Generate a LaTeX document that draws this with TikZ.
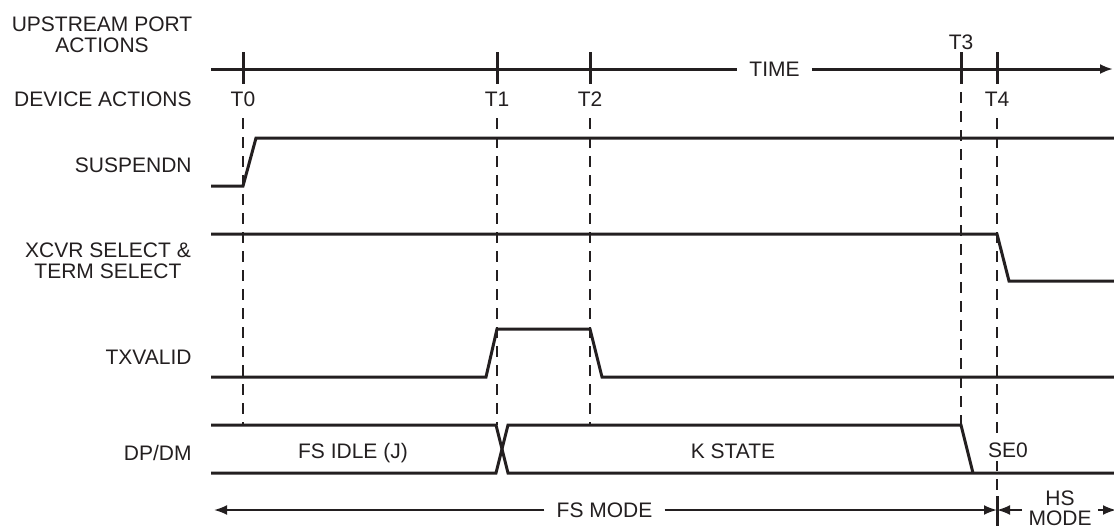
\documentclass[tikz,border=0pt]{standalone}
\usepackage{fontspec}
\setmainfont{Liberation Sans}
\usetikzlibrary{arrows.meta}
\definecolor{ink}{RGB}{35,31,32}
\tikzset{
  sig/.style={line width=1.5pt, draw=ink, line join=miter},
  guide/.style={line width=1.3pt, draw=ink, dash pattern=on 5.5pt off 4pt},
  lbl/.style={inner sep=0pt, text=ink, font=\fontsize{10.5}{10.3}\selectfont},
  gap/.style={lbl, fill=white, inner xsep=6pt, inner ysep=2pt},
  arr/.style={-{Latex[length=6.5pt,width=5pt]}},
  mode/.style={line width=1pt, draw=ink, arr}
}

\begin{document}
\begin{tikzpicture}[x=0.5pt, y=-0.5pt]
  \useasboundingbox (0,0) rectangle (1114,525);
  % row names
  \node[lbl, align=center, anchor=base] (upstream) at (102,52.3) {UPSTREAM PORT\\ACTIONS};
  \node[lbl, anchor=base east] (device) at (192,106) {DEVICE ACTIONS};
  \node[lbl, anchor=base east] (suspendn) at (192,172.3) {SUSPENDN};
  \node[lbl, align=center, anchor=base] (xcvr) at (108,278) {XCVR SELECT \&\\TERM SELECT};
  \node[lbl, anchor=base east] (txvalid) at (192,364) {TXVALID};
  \node[lbl, anchor=base east] (dpdm) at (192,460) {DP/DM};

  % time axis
  \coordinate (ax0) at (211,69);
  \coordinate (ax1) at (1113,69);
  \node[gap, anchor=base] (time) at (774.5,76) {TIME};
  \draw[sig] (ax0) -- (time.west |- ax0);
  \draw[sig, arr] (time.east |- ax0) -- (ax1);
  \foreach \x/\n in {243/0, 497/1, 590/2, 961/3, 997/4}
    \draw[sig] (\x,52) coordinate (tick\n) -- (\x,84);
  \foreach \x/\n in {243/0, 497/1, 590/2, 997/4}
    \node[lbl, anchor=base] (tlbl\n) at (\x,106) {T\n};
  \node[lbl, anchor=base] (tlbl3) at (961,49) {T3};

  % guides
  \foreach \x/\a/\b in {243/118/425, 497/118/425, 590/118/425, 961/92/425, 997/118/496}
    \draw[guide] (\x,\a) -- (\x,\b);

  % signals
  \draw[sig] (211,186) -- (243,186) -- (256,138) -- (1114,138);
  \draw[sig] (211,234) -- (997,234) -- (1009,281) -- (1114,281);
  \draw[sig] (211,377) -- (486,377) -- (497,329) -- (590,329) -- (602,377) -- (1114,377);
  \draw[sig] (211,425) -- (496,425) -- (508,473) -- (1114,473);
  \draw[sig] (211,473) -- (496,473) -- (508,425) -- (961,425) -- (973,473);
  \node[lbl, anchor=base] (fsidle) at (353,458) {FS IDLE (J)};
  \node[lbl, anchor=base] (kstate) at (733,458) {K STATE};
  \node[gap, anchor=base, inner xsep=2pt] (seo) at (1008,457) {SE0};

  % modes
  \coordinate (fs0) at (214,510);
  \coordinate (t4b) at (997,510);
  \draw[sig] (997,496) -- (997,527);
  \node[gap, anchor=base] (fsmode) at (604.5,517) {FS MODE};
  \draw[mode] (fsmode.west |- fs0) -- (fs0);
  \draw[mode] (fsmode.east |- fs0) -- (t4b);
  \node[lbl, align=center, anchor=base, inner xsep=3pt] (hsmode) at (1060,525.6) {HS\\MODE};
  \draw[mode] (hsmode.west |- t4b) -- (t4b);
  \draw[mode] (hsmode.east |- t4b) -- (1116,510);
\end{tikzpicture}
\end{document}
